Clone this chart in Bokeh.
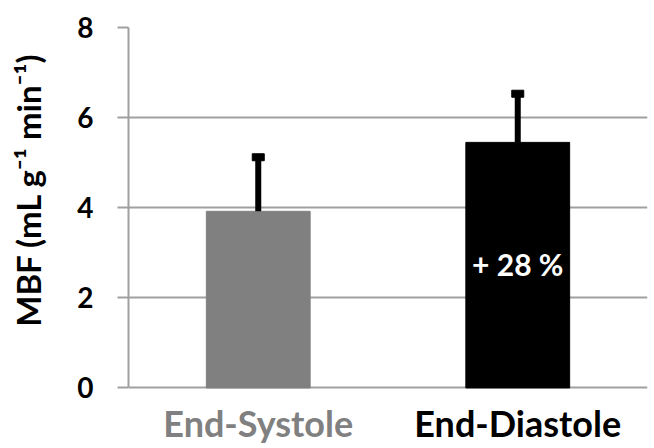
import math
from bokeh.plotting import figure
from bokeh.layouts import row
from bokeh.models import FactorRange, Range1d, FixedTicker, ColumnDataSource
from bokeh.core.properties import value
from bokeh.embed import file_html
from bokeh.resources import INLINE

categories = ["End-Systole", "End-Diastole"]
mbf = [3.92, 5.45]
sd = [1.2, 1.08]
bar_colors = ["#808080", "#000000"]
label_colors = ["#808080", "#000000"]
y_ticks = [0, 2, 4, 6, 8]
annotation_text = ["+ 28 %"]
annotation_cat = ["End-Diastole"]
y_label = ["MBF (mL g\u207b\u00b9 min\u207b\u00b9)"]

upper = [m + s for m, s in zip(mbf, sd)]
src = ColumnDataSource(dict(cat=categories, mbf=mbf, upper=upper, color=bar_colors,
                            lcolor=label_colors))

FONT = "Lato"
y_range = Range1d(-1.3, 8)

p = figure(x_range=FactorRange(*categories), y_range=y_range,
           width=589, height=446, output_backend="svg", toolbar_location=None,
           min_border_left=68, min_border_right=2, min_border_top=27, min_border_bottom=0)
p.outline_line_color = None
p.background_fill_color = "white"

p.vbar(x="cat", top="mbf", bottom=0, width=0.4, color="color", source=src)
p.segment(x0="cat", y0="mbf", x1="cat", y1="upper", line_width=6, color="black", source=src)
p.rect(x="cat", y="upper", width=12, height=7, width_units="screen", height_units="screen",
       color="black", source=src)

p.text(x=annotation_cat, y=[2.74], text=annotation_text, text_color="white",
       text_align="center", text_baseline="middle", text_font=value(FONT),
       text_font_style="bold", text_font_size="30px")

# category labels under the baseline
p.text(x="cat", y=-0.78, text="cat", text_color="lcolor", source=src,
       text_align="center", text_baseline="middle", text_font=value(FONT),
       text_font_style="bold", text_font_size="36px")

p.xaxis.visible = False
p.xgrid.grid_line_color = None
p.ygrid.ticker = FixedTicker(ticks=y_ticks)
p.ygrid.grid_line_color = "#a0a0a0"
p.ygrid.grid_line_width = 2

ya = p.yaxis[0]
ya.ticker = FixedTicker(ticks=y_ticks)
ya.bounds = (0, 8)
ya.minor_tick_line_color = None
ya.axis_line_color = "#a0a0a0"
ya.axis_line_width = 2
ya.major_tick_line_color = "#a0a0a0"
ya.major_tick_line_width = 2
ya.major_tick_in = 0
ya.major_tick_out = 11
ya.major_label_standoff = 24
ya.major_label_text_font = FONT
ya.major_label_text_font_style = "bold"
ya.major_label_text_font_size = "28px"
ya.major_label_text_color = "black"

# y-axis title in a narrow strip to the left, sharing the y range
yl = figure(x_range=Range1d(0, 1), y_range=y_range,
            width=60, height=446, output_backend="svg", toolbar_location=None,
            min_border_left=0, min_border_right=0, min_border_top=27, min_border_bottom=0)
yl.outline_line_color = None
yl.axis.visible = False
yl.grid.visible = False
yl.text(x=[0.46], y=[4.4], text=y_label, angle=math.pi / 2, text_color="black",
        text_align="center", text_baseline="middle", text_font=value(FONT),
        text_font_style="bold", text_font_size="33px")

layout = row(yl, p, spacing=0)
open("out.html", "w").write(file_html(layout, INLINE))
